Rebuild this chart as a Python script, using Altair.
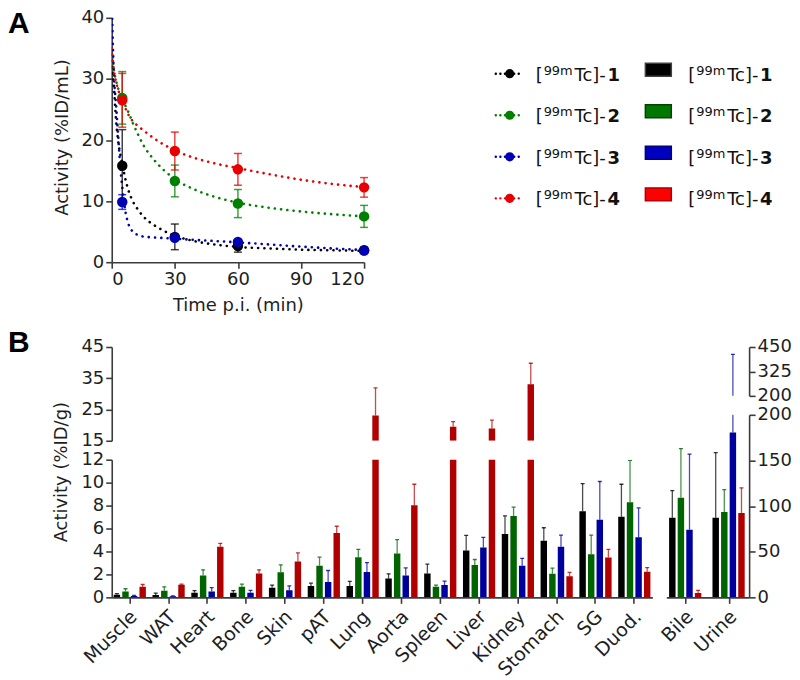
import altair as alt
import pandas as pd

FONT = "DejaVu Sans"

# ---------------- Panel A data ----------------
series = ["1", "2", "3", "4"]
t_obs = [5, 30, 60, 120]
mean_1 = [15.8, 4.15, 2.65, 1.95]
sd_1 = [5.9, 2.1, 1.0, 0.5]
mean_2 = [26.9, 13.3, 9.6, 7.5]
sd_2 = [4.3, 2.6, 2.3, 1.8]
mean_3 = [9.85, 4.0, 3.3, 1.9]
sd_3 = [1.2, 0.3, 0.3, 0.3]
mean_4 = [26.5, 18.2, 15.2, 12.25]
sd_4 = [4.4, 3.1, 2.6, 1.6]

t_fit = [0, 0.5, 1, 2, 3, 4, 5, 6.5, 8, 10, 12.5, 15, 20, 25, 30, 40, 50, 60, 75, 90, 105, 120]
fit_1 = [34, 31, 29, 23.5, 20, 17.8, 16.0, 13.6, 11.7, 10.0, 8.6, 7.5, 6.1, 5.1, 4.35, 3.4, 2.85, 2.5, 2.25, 2.05, 1.95, 1.85]
fit_2 = [34.5, 33, 31.5, 29.8, 28.5, 27.6, 26.8, 25.6, 24.5, 22.8, 20.9, 19.2, 16.8, 15.0, 13.6, 11.8, 10.6, 9.75, 8.9, 8.3, 7.85, 7.5]
fit_3 = [44, 36, 31, 26, 21, 16, 12.3, 8.3, 6.2, 5.0, 4.45, 4.2, 4.05, 3.95, 3.85, 3.65, 3.45, 3.25, 2.9, 2.55, 2.25, 2.0]
fit_4 = [35, 33, 31.5, 29.6, 28.3, 27.3, 26.5, 25.2, 24.1, 23.1, 22.3, 21.6, 20.3, 19.2, 18.3, 17.0, 16.1, 15.4, 14.4, 13.5, 12.8, 12.3]

# ---------------- Panel B data ----------------
organs = ["Muscle", "WAT", "Heart", "Bone", "Skin", "pAT", "Lung", "Aorta",
          "Spleen", "Liver", "Kidney", "Stomach", "SG", "Duod."]
b_1 = [0.23, 0.2, 0.4, 0.4, 0.84, 1.0, 1.0, 1.65, 2.08, 4.08, 5.52, 4.94, 7.51, 7.02]
bsd_1 = [0.09, 0.17, 0.18, 0.18, 0.23, 0.24, 0.39, 0.4, 0.81, 1.32, 1.58, 1.13, 2.4, 2.84]
b_2 = [0.52, 0.58, 1.9, 0.92, 2.19, 2.75, 3.5, 3.82, 0.92, 2.83, 7.1, 2.05, 3.76, 8.29]
bsd_2 = [0.23, 0.34, 0.5, 0.23, 0.64, 0.75, 0.69, 1.21, 0.15, 0.47, 0.76, 0.49, 1.67, 3.65]
b_3 = [0.12, 0.09, 0.52, 0.4, 0.63, 1.33, 2.22, 1.91, 1.07, 4.34, 2.75, 4.42, 6.76, 5.23]
bsd_3 = [0.05, 0.03, 0.32, 0.2, 0.37, 1.01, 0.81, 0.66, 0.35, 0.89, 0.65, 1.01, 3.34, 2.57]
b_4 = [0.92, 1.1, 4.41, 2.08, 3.12, 5.6, 23.1, 8.03, 19.5, 18.9, 33.1, 1.85, 3.47, 2.23]
bsd_4 = [0.2, 0.05, 0.29, 0.32, 0.75, 0.6, 8.8, 1.83, 1.6, 2.7, 6.7, 0.32, 0.72, 0.37]

organs2 = ["Bile", "Urine"]
c_1 = [87.3, 87.3]
csd_1 = [29.7, 71.2]
c_2 = [109.0, 93.6]
csd_2 = [54.0, 24.4]
c_3 = [74.0, 180.5]
csd_3 = [83.0, 232.0]
c_4 = [4.8, 92.5]
csd_4 = [2.9, 27.5]

legend_sup = "99m"
legend_pre = "["
legend_mid = "Tc]-"

# ---------------- colours ----------------
COL_A = ["#000000", "#008000", "#0000b4", "#e80000"]
COL_B = ["#000000", "#006400", "#00009c", "#b00000"]
LEG_FILL = ["#000000", "#007800", "#0000c0", "#ff0000"]
LEG_STROKE = ["#404040", "#004400", "#000080", "#b00000"]

# ---------------- tables ----------------
fits = [fit_1, fit_2, fit_3, fit_4]
means = [mean_1, mean_2, mean_3, mean_4]
sds = [sd_1, sd_2, sd_3, sd_4]
df_fit = pd.DataFrame([{"t": t, "v": v, "s": s}
                       for s, f in zip(series, fits) for t, v in zip(t_fit, f)])
df_obs = pd.DataFrame([{"t": t, "v": m, "lo": m - d, "hi": m + d, "s": s}
                       for s, ms, ds in zip(series, means, sds)
                       for t, m, d in zip(t_obs, ms, ds)])

def long_bars(cats, vals, sds_):
    rows = []
    for s, vs, ds in zip(series, vals, sds_):
        for o, v, d in zip(cats, vs, ds):
            rows.append({"organ": o, "s": s, "value": v, "top": v + d})
    return pd.DataFrame(rows)

dfL = long_bars(organs, [b_1, b_2, b_3, b_4], [bsd_1, bsd_2, bsd_3, bsd_4])
dfR = long_bars(organs2, [c_1, c_2, c_3, c_4], [csd_1, csd_2, csd_3, csd_4])

# ---------------- Panel A ----------------
A_H = 245
colA = alt.Color("s:N", scale=alt.Scale(domain=series, range=COL_A), legend=None)

def xA(field):
    return alt.X(field, scale=alt.Scale(domain=[0, 120], nice=False),
                 axis=alt.Axis(values=[0, 30, 60, 90, 120], title="Time p.i. (min)", titlePadding=8))

def yA(field):
    return alt.Y(field, scale=alt.Scale(domain=[0, 40], nice=False),
                 axis=alt.Axis(values=[0, 10, 20, 30, 40], title="Activity (%ID/mL)",
                               titleX=-40, titleY=A_H / 2 - 3))

curves = alt.Chart(df_fit).mark_line(
    strokeDash=[0.1, 6.2], strokeCap="round", strokeWidth=2.6,
    interpolate="monotone", clip=True
).encode(x=xA("t:Q"), y=yA("v:Q"), color=colA, detail="s:N")

errA = alt.Chart(df_obs).mark_rule(strokeWidth=1.5, opacity=0.75).encode(
    x=xA("t:Q"), y=yA("lo:Q"), y2="hi:Q", color=colA)
capsA = alt.Chart(df_obs).transform_fold(["lo", "hi"], as_=["k", "c"]).mark_tick(
    orient="horizontal", size=8, thickness=1.5, opacity=0.75
).encode(x=xA("t:Q"), y=yA("c:Q"), color=colA)
ptsA = alt.Chart(df_obs).mark_circle(size=110, opacity=1).encode(
    x=xA("t:Q"), y=yA("v:Q"), color=colA)
labA = alt.Chart(pd.DataFrame({"lab": ["A"]})).mark_text(
    font="Liberation Sans", fontSize=30, fontWeight="bold", align="left", baseline="alphabetic"
).encode(text="lab:N", x=alt.value(-104), y=alt.value(15))

panelA = alt.layer(curves, errA, capsA, ptsA, labA).properties(width=253, height=A_H)

# ---------------- Legend ----------------
df_leg = pd.DataFrame({"s": series, "row": [0, 1, 2, 3],
                       "pre": [legend_pre] * 4, "sup": [legend_sup] * 4, "mid": [legend_mid] * 4})
yL = alt.Y("row:Q", scale=alt.Scale(domain=[0, 3], range=[56, 181]), axis=None)
colL = alt.Color("s:N", scale=alt.Scale(domain=series, range=COL_A), legend=None)
legLayers = [
    alt.Chart(df_leg).mark_rule(strokeDash=[0.1, 4.5], strokeCap="round", strokeWidth=2.4).encode(
        x=alt.value(7), x2=alt.value(34), y=yL, color=colL),
    alt.Chart(df_leg).mark_circle(size=85, opacity=1).encode(x=alt.value(21), y=yL, color=colL),
    alt.Chart(df_leg).mark_point(shape="M-1,-0.5H1V0.5H-1Z", filled=True, size=676,
                                 strokeWidth=1.5, yOffset=-4, opacity=1).encode(
        x=alt.value(170), y=yL,
        fill=alt.Fill("s:N", scale=alt.Scale(domain=series, range=LEG_FILL), legend=None),
        stroke=alt.Stroke("s:N", scale=alt.Scale(domain=series, range=LEG_STROKE), legend=None)),
]
for off in [0, 153]:
    legLayers += [
        alt.Chart(df_leg).mark_text(font=FONT, fontSize=18, align="left", baseline="alphabetic", dy=7,
                                    color="#111111").encode(x=alt.value(47 + off), y=yL, text="pre:N"),
        alt.Chart(df_leg).mark_text(font=FONT, fontSize=13, align="left", baseline="alphabetic", dy=1,
                                    color="#111111").encode(x=alt.value(55 + off), y=yL, text="sup:N"),
        alt.Chart(df_leg).mark_text(font=FONT, fontSize=18, align="left", baseline="alphabetic", dy=7,
                                    color="#111111").encode(x=alt.value(86 + off), y=yL, text="mid:N"),
        alt.Chart(df_leg).mark_text(font=FONT, fontSize=18, fontWeight="bold", align="left",
                                    baseline="alphabetic", dy=7,
                                    color="#111111").encode(x=alt.value(119 + off), y=yL, text="s:N"),
    ]
legend = alt.layer(*legLayers).properties(width=300, height=A_H)

# ---------------- Panel B ----------------
colB = alt.Color("s:N", scale=alt.Scale(domain=series, range=COL_B), legend=None)
xoffL = alt.XOffset("s:N", scale=alt.Scale(domain=series, paddingInner=0.25, paddingOuter=0))
xoffR = alt.XOffset("s:N", scale=alt.Scale(domain=series, paddingInner=0.28, paddingOuter=0))
lab_axis = dict(title=None, labelAngle=-45, labelAlign="right", labelBaseline="middle",
                labelFontSize=19, labelPadding=10, labelOffset=4)

def xLeft(show):
    return alt.X("organ:N", scale=alt.Scale(domain=organs, paddingInner=0.17, paddingOuter=0.05),
                 axis=alt.Axis(**lab_axis) if show else None)

def xRight(show):
    return alt.X("organ:N", scale=alt.Scale(domain=organs2, paddingInner=0.22, paddingOuter=0.064),
                 axis=alt.Axis(**lab_axis) if show else None)

def yB(field, dom, vals, orient="left", title=None, tx=None, ty=None):
    ax = dict(values=vals, orient=orient, title=title)
    if tx is not None:
        ax.update(titleX=tx, titleY=ty)
    return alt.Y(field, scale=alt.Scale(domain=dom, nice=False, zero=False), axis=alt.Axis(**ax))

def panel(df, xf, xoff, dom, vals, orient, base, title=None, tx=None, ty=None, filt=None):
    src = alt.Chart(df)
    if filt:
        src = src.transform_filter(filt)
    ymain = yB("value:Q", dom, vals, orient, title, tx, ty)
    if base is None:
        bars = src.mark_bar(clip=True).encode(x=xf, xOffset=xoff, y=ymain, color=colB)
    else:
        bars = src.mark_bar(clip=True).encode(x=xf, xOffset=xoff, y=ymain, y2=alt.datum(base), color=colB)
    rules = src.mark_rule(clip=True, strokeWidth=1.3, opacity=0.7).encode(
        x=xf, xOffset=xoff, y=yB("value:Q", dom, vals, orient, title, tx, ty), y2="top:Q", color=colB)
    caps = src.mark_tick(clip=True, orient="horizontal", size=4, thickness=1.3, opacity=0.8).encode(
        x=xf, xOffset=xoff, y=yB("top:Q", dom, vals, orient, title, tx, ty), color=colB)
    return [bars, rules, caps]

upL_layers = panel(dfL, xLeft(False), xoffL, [15, 45], [15, 25, 35, 45], "left", 15,
                   filt="datum.value > 12")
labB = alt.Chart(pd.DataFrame({"lab": ["B"]})).mark_text(
    font="Liberation Sans", fontSize=30, fontWeight="bold", align="left", baseline="alphabetic"
).encode(text="lab:N", x=alt.value(-104), y=alt.value(5))
upL = alt.layer(*upL_layers, labB).properties(width=542, height=94)
lowL = alt.layer(*panel(dfL, xLeft(True), xoffL, [0, 12], [0, 2, 4, 6, 8, 10, 12], "left", None,
                        title="Activity (%ID/g)", tx=-41, ty=12)).properties(width=542, height=138)

upR = alt.layer(*panel(dfR, xRight(False), xoffR, [200, 450], [200, 325, 450], "right", 200,
                       filt="datum.top > 200")).properties(width=83, height=49)
lowR = alt.layer(*panel(dfR, xRight(True), xoffR, [0, 200], [0, 50, 100, 150, 200], "right", None)
                 ).properties(width=83, height=183)

BL = alt.vconcat(upL, lowL, spacing=19, bounds="flush")
BR = alt.vconcat(upR, lowR, spacing=19, bounds="flush")
bottom = alt.hconcat(BL, BR, spacing=5)
top = alt.hconcat(panelA, legend, spacing=125, bounds="flush")

chart = alt.vconcat(top, bottom, spacing=14).resolve_scale(
    color="independent"
).properties(padding=0).configure_view(strokeWidth=0).configure_axis(
    labelFont=FONT, labelFontSize=18, titleFont=FONT, titleFontSize=18, titleFontWeight="normal",
    domainColor="#3c3c3c", domainWidth=1.6, tickColor="#3c3c3c", tickWidth=1.6, tickSize=6,
    labelColor="#1e1e1e", titleColor="#1e1e1e", grid=False, labelPadding=2
)

chart.save("out.html", embed_options={"renderer": "svg", "actions": False})
